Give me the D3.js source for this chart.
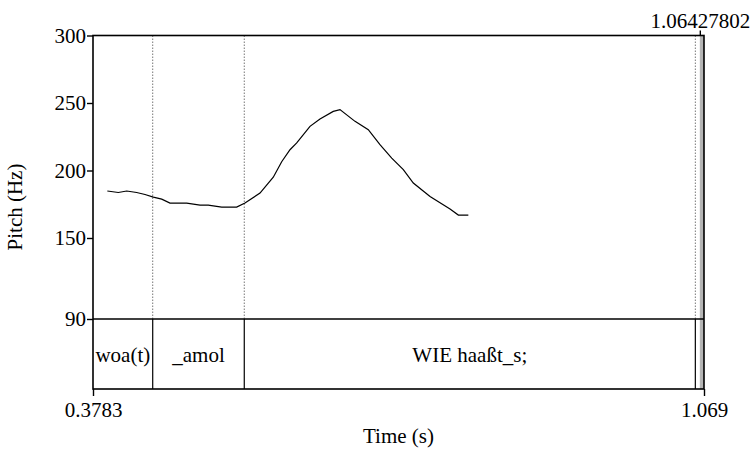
<!DOCTYPE html>
<html>
<head>
<meta charset="utf-8">
<script src="https://cdn.jsdelivr.net/npm/d3@7"></script>
<style>
  body { margin: 0; background: #fff; }
  text { font-family: "Liberation Serif", "Times New Roman", serif; }
</style>
</head>
<body>
<div id="chart"></div>
<script>
// pitch contour (time in s, pitch in Hz)
var timeVals = [0.3945, 0.4069, 0.4164, 0.4277, 0.4371, 0.4465, 0.4560, 0.4653, 0.4747, 0.4842,
  0.4993, 0.5086, 0.5238, 0.5407, 0.5501, 0.5671, 0.5821, 0.5916, 0.6010, 0.6086,
  0.6236, 0.6349, 0.6499, 0.6575, 0.6745, 0.6895, 0.7027, 0.7160, 0.7291, 0.7404,
  0.7593, 0.7819, 0.7913, 0.8026];
var pitchVals = [184.8, 183.7, 184.8, 183.7, 182.2, 180.3, 178.8, 175.9, 175.9, 175.9,
  174.4, 174.4, 172.9, 172.9, 175.9, 183.3, 195.0, 206.5, 215.4, 220.4,
  232.7, 238.2, 243.8, 245.1, 236.4, 230.2, 219.1, 209.2, 200.6, 190.7,
  180.8, 171.4, 167.0, 167.0];

// text grid tier
var tierStarts = [0.3783, 0.4458, 0.5493, 1.0592, 1.06427802];
var tierEnds   = [0.4458, 0.5493, 1.0592, 1.06427802, 1.069];
var tierLabels = ["woa(t)", "_amol", "WIE haaßt_s;", "", ""];
var innerBounds = [0.4458, 0.5493, 1.0592];
var grayBound = 1.06427802;

var yTicks = [300, 250, 200, 150, 90];
var tMin = 0.3783, tMax = 1.069;

var W = 755, H = 452;
var plotLeft = 93, plotRight = 704, plotTop = 35.5, pitchBottom = 319, tierBottom = 389;

var svg = d3.select("#chart").append("svg")
  .attr("width", W)
  .attr("height", H);

var x = d3.scaleLinear().domain([tMin, tMax]).range([plotLeft, plotRight]);
var y = d3.scaleLinear().domain([90, 300]).range([pitchBottom, plotTop]);

// dotted boundary lines in the pitch area
svg.selectAll(".bdot")
  .data(innerBounds)
  .enter().append("line")
    .attr("x1", function(d) { return x(d); })
    .attr("x2", function(d) { return x(d); })
    .attr("y1", plotTop)
    .attr("y2", pitchBottom)
    .style("stroke", "#777")
    .style("stroke-width", 1)
    .style("stroke-dasharray", "1.5,1.5");

// gray last boundary
svg.append("rect")
  .attr("x", x(grayBound))
  .attr("y", plotTop)
  .attr("width", plotRight - x(grayBound))
  .attr("height", tierBottom - plotTop)
  .style("fill", "#b5b5b5");

// tier boundaries
svg.selectAll(".bsolid")
  .data(innerBounds)
  .enter().append("line")
    .attr("x1", function(d) { return x(d); })
    .attr("x2", function(d) { return x(d); })
    .attr("y1", pitchBottom)
    .attr("y2", tierBottom)
    .style("stroke", "#000")
    .style("stroke-width", 1.2);

// tier labels
svg.selectAll(".tlab")
  .data(tierLabels)
  .enter().append("text")
    .attr("x", function(d, i) { return (x(tierStarts[i]) + x(tierEnds[i])) / 2; })
    .attr("y", 362)
    .attr("text-anchor", "middle")
    .style("font-size", "21px")
    .text(function(d) { return d; });

// pitch contour
var line = d3.line()
  .x(function(d, i) { return x(timeVals[i]); })
  .y(function(d) { return y(d); });

svg.append("path")
  .datum(pitchVals)
  .attr("d", line)
  .style("fill", "none")
  .style("stroke", "#000")
  .style("stroke-width", 1.2);

// frame and separator
svg.append("rect")
  .attr("x", plotLeft)
  .attr("y", plotTop)
  .attr("width", plotRight - plotLeft)
  .attr("height", tierBottom - plotTop)
  .style("fill", "none")
  .style("stroke", "#000")
  .style("stroke-width", 1.6);

svg.append("line")
  .attr("x1", plotLeft).attr("x2", plotRight)
  .attr("y1", pitchBottom).attr("y2", pitchBottom)
  .style("stroke", "#000")
  .style("stroke-width", 1.4);

// left axis
var yAxis = svg.append("g")
  .attr("transform", "translate(" + plotLeft + ",0)")
  .call(d3.axisLeft(y).tickValues(yTicks).tickSize(6).tickPadding(1).tickFormat(d3.format("d")));
yAxis.select(".domain").remove();
yAxis.selectAll("line").style("stroke-width", 1.4);
yAxis.selectAll("text")
  .style("font-family", "Liberation Serif")
  .style("font-size", "21px")
  .style("fill", "#000");

// bottom axis
var xAxis = svg.append("g")
  .attr("transform", "translate(0," + tierBottom + ")")
  .call(d3.axisBottom(x).tickValues([tMin, tMax]).tickSize(7).tickPadding(6)
    .tickFormat(function(d) { return d === tMin ? "0.3783" : "1.069"; }));
xAxis.select(".domain").remove();
xAxis.selectAll("line").style("stroke-width", 1.4);
xAxis.selectAll("text")
  .style("font-family", "Liberation Serif")
  .style("font-size", "21px")
  .style("fill", "#000");

// top axis with boundary time
var topAxis = svg.append("g")
  .attr("transform", "translate(0," + plotTop + ")")
  .call(d3.axisTop(x).tickValues([grayBound]).tickSize(5).tickPadding(3)
    .tickFormat(function(d) { return "1.06427802"; }));
topAxis.select(".domain").remove();
topAxis.selectAll("line").style("stroke-width", 1.4);
topAxis.selectAll("text")
  .style("font-family", "Liberation Serif")
  .style("font-size", "21px")
  .style("fill", "#000");

// axis titles
svg.append("text")
  .attr("transform", "translate(22,207) rotate(-90)")
  .attr("text-anchor", "middle")
  .style("font-size", "21px")
  .text("Pitch (Hz)");

svg.append("text")
  .attr("x", (plotLeft + plotRight) / 2)
  .attr("y", 443)
  .attr("text-anchor", "middle")
  .style("font-size", "21px")
  .text("Time (s)");
</script>
</body>
</html>
